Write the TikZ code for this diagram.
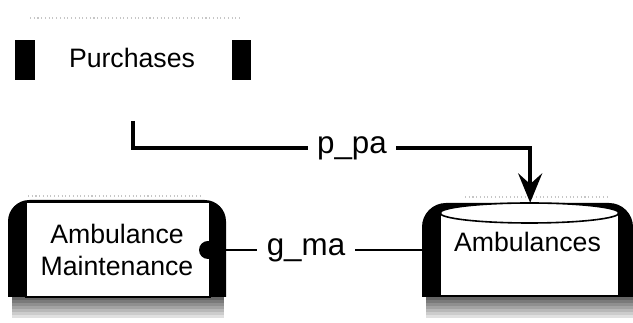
\documentclass[tikz,border=0pt]{standalone}
\usepackage{fontspec}
\setmainfont{Liberation Sans}
\usetikzlibrary{arrows.meta, positioning, calc}
\tikzstyle{nodetext} = [inner sep=0pt, font=\fontsize{20}{23.5}\selectfont, align=center]
\tikzstyle{flowlabel} = [fill=white, inner sep=7pt, font=\fontsize{23.5}{28}\selectfont]
\tikzstyle{flow} = [line width=3pt, -{Stealth[length=22pt,width=18pt,inset=8pt]}]
\tikzstyle{link} = [line width=2.2pt]
\tikzstyle{topdots} = [gray!45, dotted, line width=0.8pt]

% fading shadow under a box: \boxshadow{left}{right}{top}
\newcommand{\boxshadow}[3]{%
  \foreach \i in {0,...,6}{
    \pgfmathsetmacro{\shade}{60-8*\i}
    \fill[black!\shade] (#1,#3+3*\i) rectangle (#2,#3+3*\i+3.2);
  }}

\begin{document}
\begin{tikzpicture}[x=0.75pt, y=-0.75pt]
\useasboundingbox (0,0) rectangle (633,323);

% Purchases
\draw[topdots] (30,18) -- (240,18);
\fill (15,40) rectangle (35,80);
\fill (232,40) rectangle (251,80);
\node (purchases) [nodetext] at (132,58) {Purchases};

% Ambulance Maintenance
\boxshadow{12}{224}{297}
\draw[topdots] (28,196) -- (200,196);
\fill (8,297) {[rounded corners=16pt] -- (8,200) -- (226,200)} -- (226,297) -- cycle;
\filldraw[fill=white, line width=1.5pt] (26,202) rectangle (210,297);
\fill (208,250) circle (9);
\node (maint) [nodetext, minimum width=163.5pt, minimum height=72.75pt] at (117,250) {Ambulance\\Maintenance};

% Ambulances (data store)
\boxshadow{426}{633}{297}
\draw[topdots] (465,197) -- (610,197);
\fill (422,297) {[rounded corners=18pt] -- (422,203) -- (633,203)} -- (633,297) -- cycle;
\filldraw[fill=white, line width=1.2pt] (440,213) -- (440,296) -- (619,296) -- (619,213)
  arc[start angle=0, end angle=-180, x radius=89.5, y radius=10] -- cycle;
\draw[line width=1.2pt] (440,213) arc[start angle=180, end angle=0, x radius=89.5, y radius=10];
\node (ambulances) [nodetext, minimum width=158.25pt, minimum height=58.5pt] at (527.5,242) {Ambulances};

% flows
\coordinate (p_start) at (133,121);
\coordinate (p_bend) at (133,148);
\draw[flow] (p_start) -- (p_bend) -| ([xshift=2pt]ambulances.north);
\node (p_pa) [flowlabel] at (352,148) {p\_pa};

\draw[link] (maint.east) -- (maint.east -| ambulances.west);
\node (g_ma) [flowlabel] at (306,250) {g\_ma};

\end{tikzpicture}
\end{document}
